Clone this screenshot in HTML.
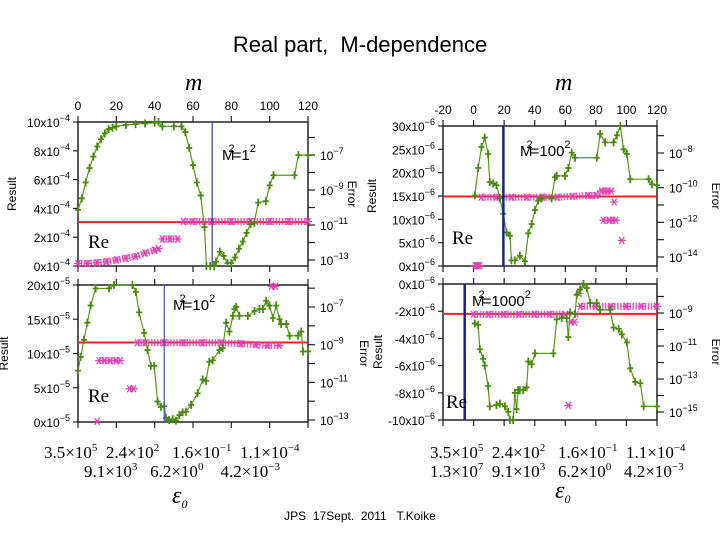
<!DOCTYPE html>
<html><head><meta charset="utf-8"><style>
body{margin:0;background:#fff;}
svg text{font-family:"Liberation Sans",sans-serif;white-space:pre;}
.sf{font-family:"Liberation Serif",serif !important;}
</style></head><body>
<svg id="chart" width="720" height="540" viewBox="0 0 720 540" xmlns="http://www.w3.org/2000/svg">
<rect width="720" height="540" fill="#fff"/>
<text x="360" y="52" font-size="22" text-anchor="middle">Real part,  M-dependence</text>
<text x="360" y="520" font-size="12" text-anchor="middle" xml:space="preserve">JPS  17Sept.  2011   T.Koike</text>
<g id="layer"></g>
</svg>
<script>
// ---- data: m index and Result values (left axis units) ----
const p1GreenM=[0,2,4,6,8,10,12,14,16,18,20,25,30,35,40,42,44,50,54,56,58,60,62,64,66,67,69,71,72,74,76,78,80,82,84,86,88,90,92,94,98,100,102,113,115,120];
const p1GreenV=[3.9,4.7,5.8,6.8,7.6,8.3,8.8,9.2,9.5,9.6,9.7,9.8,9.85,9.9,9.95,10,9.7,9.7,9.7,9.3,8.2,7.0,5.8,4.9,2.7,0,0,0,0.3,1.0,0.7,0.2,0.2,0.6,1.2,1.7,2.3,2.9,3.0,4.4,4.5,5.6,6.3,6.3,7.7,7.7];
const p1MagM=[0,5,10,15,20,25,30,35,40,42,44,48,52,55,60,70,80,90,100,110,120];
const p1MagLog=[-13.2,-13.2,-13.15,-13.1,-13.0,-12.9,-12.8,-12.6,-12.45,-12.35,-11.8,-11.8,-11.8,-10.8,-10.8,-10.8,-10.8,-10.8,-10.8,-10.8,-10.8];
const p1Exact=3.05, p1Mark=70;

const p2GreenM=[0.8,3,5.2,7.3,9.5,10.6,12.8,15,17.2,19.4,21.6,23.8,24.8,27,30.3,33.6,35.8,38,40.2,42.3,44.5,51,53.3,54.4,59.8,62,64.2,66.4,80.6,82.8,86.1,91.6,93.8,96,98.1,100.3,102.5,114.5,116.7,120];
const p2GreenV=[15.1,21,25.5,27.5,24,18,17.7,17.3,14.5,11.2,7.2,6.5,1.2,1.2,2.2,1.0,7,9,12,14,14.5,14.5,19,19.3,19.3,21,24.3,23.2,23.2,28.3,26.5,26.5,28,30,25,24,18.6,18.6,17.5,17.3];
const p2MagM=[1,2,3,4,5,15,25,35,45,55,65,75,80,84,86,88,90,92,85,89,91,93,97];
const p2MagLog=[-14.5,-14.5,-14.5,-14.5,-10.55,-10.55,-10.55,-10.55,-10.55,-10.55,-10.5,-10.45,-10.45,-10.2,-10.2,-10.2,-10.2,-10.83,-11.88,-11.88,-11.88,-11.88,-13.04];
const p2Exact=14.9, p2Mark=19.5;

const p3GreenM=[0,1.4,3.1,4.9,6.6,9.2,16.2,18.8,28.4,30.2,31.9,34.5,36.3,38,39.8,41.5,43.3,45,45.9,47.6,49.4,51.1,52.9,54.6,56.3,59,62.4,65.1,66.8,68.5,70.3,73.8,75.5,77.3,79,80.8,81.6,82.5,84.2,88.6,92.1,94.7,96.5,98.2,99.9,101.7,103.4,105.1,106,108.7,110.4,114.8,116.5,117.4,120];
const p3GreenV=[7.5,9.5,12,14.5,17,19.5,19.5,20,20,19,16,13,10.5,8.2,8.2,3,2.2,2.3,0.6,0.3,0.4,0.2,1,1.4,1.5,2.5,4.2,6.2,6,8.8,9,10.5,10.8,14.5,13.2,15.5,16.5,16.8,15.5,15.5,16.2,16.5,16.5,17.7,17,15.2,17,15,14.3,14.3,12.6,12.6,13.2,10.3,10.3];
const p3MagM=[10,11,14,17,20,22,27,29,31,35,45,55,65,75,85,93,99,105,101,103];
const p3MagLog=[-13.07,-9.85,-9.85,-9.85,-9.85,-9.85,-11.34,-11.34,-8.9,-8.9,-8.9,-8.9,-8.9,-8.9,-8.95,-9.0,-9.05,-9.05,-5.9,-5.9];
const p3Exact=11.6, p3Mark=45;

const p4GreenM=[0.8,3,4.1,6.3,7.3,9.5,10.6,15,17.2,20.5,22.7,23.8,25.9,27,28.1,29.2,30.3,32.5,34.7,35.8,38,40.2,52.2,54.4,57.7,60.9,62,63.1,66.4,67.5,69.7,71.9,74.1,76.3,80.6,82.8,89.4,91.6,94.9,97,100.3,102.5,105.8,109.1,111.3,120];
const p4GreenV=[-2.9,-3.0,-4.8,-5.5,-6.0,-7.5,-9.0,-8.9,-8.8,-9.0,-9.4,-10,-10,-8,-9.2,-7.8,-7.8,-7.8,-7.6,-5.7,-5.9,-5.1,-5.1,-2.6,-2.5,-2.5,-3.9,-2.1,-2.2,-0.8,-0.4,0,-0.3,-1.4,-1.4,-1.9,-1.9,-3.2,-3.3,-3.7,-4.3,-6.2,-7.2,-7.3,-9.0,-9.0];
const p4MagM=[0,10,20,30,40,50,60,64,66,67,69,62,70,80,90,100,110,120];
const p4MagLog=[-9.08,-9.08,-9.08,-9.08,-9.08,-9.08,-9.08,-9.55,-9.55,-9.08,-7.83,-14.6,-8.6,-8.6,-8.6,-8.6,-8.6,-8.6];
const p4Exact=-2.2, p4Mark=-5.8;

// tick labels
const leftTicks1=[0,2,4,6,8,10], leftTicks2=[0,5,10,15,20,25,30], leftTicks3=[0,5,10,15,20], leftTicks4=[-10,-8,-6,-4,-2,0];
const topTicksL=[0,20,40,60,80,100,120], topTicksR=[-20,0,20,40,60,80,100,120];
const errTicks1=[-7,-9,-11,-13], errTicks2=[-8,-10,-12,-14], errTicks3=[-7,-9,-11,-13], errTicks4=[-9,-11,-13,-15];

const NS="http://www.w3.org/2000/svg";
const layer=document.getElementById('layer');
function mk(tag,attrs,parent){const e=document.createElementNS(NS,tag);for(const k in attrs)e.setAttribute(k,attrs[k]);(parent||layer).appendChild(e);return e;}

function panel(cfg){
  const g=mk('g',{});
  
  
  const xs=m=>cfg.xa+(m-cfg.ma)*(cfg.xb-cfg.xa)/(cfg.mb-cfg.ma);
  const ys=v=>cfg.ya+(v-cfg.va)*(cfg.yb-cfg.ya)/(cfg.vb-cfg.va);
  const ye=l=>cfg.ea+(l-cfg.la)*(cfg.eb-cfg.ea)/(cfg.lb-cfg.la);
  const L=cfg.xa0,R=cfg.xb0,T=cfg.top,B=cfg.bot;
  const fr=mk('rect',{x:L,y:T,width:R-L,height:B-T,fill:'none',stroke:'#222','stroke-width':1.5},g);
  
  cfg.xticks.forEach(t=>{const x=xs(t);
    mk('line',{x1:x,y1:B,x2:x,y2:B+6,stroke:'#222','stroke-width':1.2},g);
    mk('line',{x1:x,y1:T,x2:x,y2:T-6,stroke:'#222','stroke-width':1.2},g);
    if(cfg.showTop){const tx=mk('text',{x:x,y:T-12,'font-size':12,'text-anchor':'middle'},g);tx.textContent=t;
      }
  });
  cfg.lticks.forEach(v=>{const y=ys(v);
    mk('line',{x1:L-5,y1:y,x2:L,y2:y,stroke:'#222','stroke-width':1.2},g);
    const tx=mk('text',{x:L-8,y:y+5,'font-size':12,'text-anchor':'end'},g);
    
    tx.textContent=v+'x10';const s=mk('tspan',{dy:-6,'font-size':9},tx);s.textContent='−'+cfg.exp;
  });
  cfg.eticks.forEach(l=>{const y=ye(l);
    mk('line',{x1:R,y1:y,x2:R+7,y2:y,stroke:'#222','stroke-width':1.2},g);
    const y2=ye(l+1);mk('line',{x1:R,y1:y2,x2:R+7,y2:y2,stroke:'#222','stroke-width':1.2},g);
    const tx=mk('text',{x:R+12,y:y+5,'font-size':12},g);
    
    tx.textContent='10';const s=mk('tspan',{dy:-6,'font-size':9},tx);s.textContent='−'+(-l);
  });
  const rl=mk('text',{x:0,y:0,'font-size':12,'text-anchor':'middle',transform:`translate(${cfg.rlx},${(T+B)/2}) rotate(-90)`},g);
  rl.textContent='Result';
  const el=mk('text',{x:0,y:0,'font-size':12,'text-anchor':'middle',transform:`translate(${cfg.elx},${(T+B)/2}) rotate(90)`},g);
  el.textContent='Error';
  const red=mk('line',{x1:L,x2:R,y1:ys(cfg.exact),y2:ys(cfg.exact),stroke:'#e8242a','stroke-width':2},g);
  
  cfg.magM.forEach((m,i)=>{const x=xs(m),y=ye(cfg.magL[i]);
    const st=mk('path',{d:`M${x-4},${y}H${x+4}M${x-2.5},${y-3.5}L${x+2.5},${y+3.5}M${x-2.5},${y+3.5}L${x+2.5},${y-3.5}`,stroke:'#e040b0','stroke-width':1.2},g);
    
    if(i<cfg.magM.length-1 && Math.abs(cfg.magL[i+1]-cfg.magL[i])<0.3 && cfg.magM[i+1]>m){
      const x2=xs(cfg.magM[i+1]),y2=ye(cfg.magL[i+1]);
      const band=mk('path',{d:`M${x},${y}L${x2},${y2}`,stroke:'#e040b0','stroke-width':7,'stroke-dasharray':'1.5 1.5',opacity:0.85},g);
      
    }
  });
  const pts=cfg.gM.map((m,i)=>xs(m)+','+ys(cfg.gV[i])).join(' ');
  const pl=mk('polyline',{points:pts,fill:'none',stroke:'#5a9a1a','stroke-width':1.2},g);
  
  cfg.gM.forEach((m,i)=>{const x=xs(m),y=ys(cfg.gV[i]);
    const p=mk('path',{d:`M${x-3},${y}H${x+3}M${x},${y-4}V${y+4}`,stroke:'#4a8a10','stroke-width':1.8},g);
    
  });
  const bl=mk('line',{x1:xs(cfg.mark),x2:xs(cfg.mark),y1:T,y2:B,stroke:cfg.markColor,'stroke-width':cfg.markW},g);
  
  const ml=mk('text',{x:cfg.mlx,y:cfg.mly,'font-size':15},g);
  
  ml.textContent='M';const a=mk('tspan',{dx:-6,dy:-8,'font-size':11},ml);a.textContent='2';
  const b=mk('tspan',{dx:-2,dy:8},ml);b.textContent='='+cfg.mtext;const c=mk('tspan',{dy:-8,'font-size':11},ml);c.textContent='2';
  const re=mk('text',{x:cfg.rex,y:cfg.rey,'font-size':19,class:'sf'},g);
  re.textContent='Re';
}

panel({name:'panel-m1',xa:78,xb:308,ma:0,mb:120,xa0:78,xb0:308,top:122,bot:266,ya:266,yb:122,va:0,vb:10,ea:155,eb:260,la:-7,lb:-13,
  xticks:topTicksL,showTop:true,lticks:leftTicks1,exp:4,eticks:errTicks1,rlx:16,elx:348,exact:p1Exact,mark:p1Mark,markColor:'#3040a0',markW:1.2,
  gM:p1GreenM,gV:p1GreenV,magM:p1MagM,magL:p1MagLog,mlx:222,mly:160,mtext:'1',rex:88,rey:248});
panel({name:'panel-m100',xa:443,xb:657,ma:-20,mb:120,xa0:443,xb0:657,top:126,bot:266,ya:266,yb:126,va:0,vb:30,ea:153,eb:257,la:-8,lb:-14,
  xticks:topTicksR,showTop:true,lticks:leftTicks2,exp:6,eticks:errTicks2,rlx:376,elx:712,exact:p2Exact,mark:p2Mark,markColor:'#1a2580',markW:2.5,
  gM:p2GreenM,gV:p2GreenV,magM:p2MagM,magL:p2MagLog,mlx:520,mly:156,mtext:'100',rex:452,rey:244});
panel({name:'panel-m10',xa:78,xb:308,ma:0,mb:120,xa0:78,xb0:308,top:285,bot:422,ya:422,yb:285,va:0,vb:20,ea:307,eb:420,la:-7,lb:-13,
  xticks:topTicksL,showTop:false,lticks:leftTicks3,exp:5,eticks:errTicks3,rlx:8,elx:360,exact:p3Exact,mark:p3Mark,markColor:'#4050c0',markW:1.2,
  gM:p3GreenM,gV:p3GreenV,magM:p3MagM,magL:p3MagLog,mlx:173,mly:310,mtext:'10',rex:88,rey:402});
panel({name:'panel-m1000',xa:443,xb:657,ma:-20,mb:120,xa0:443,xb0:657,top:284,bot:420,ya:420,yb:284,va:-10,vb:0,ea:313,eb:412,la:-9,lb:-15,
  xticks:topTicksR,showTop:false,lticks:leftTicks4,exp:6,eticks:errTicks4,rlx:382,elx:712,exact:p4Exact,mark:p4Mark,markColor:'#1a2090',markW:2.5,
  gM:p4GreenM,gV:p4GreenV,magM:p4MagM,magL:p4MagLog,mlx:472,mly:306,mtext:'1000',rex:446,rey:408});

function txt(name,x,y,s,size,extra){const t=mk('text',Object.assign({x:x,y:y,'font-size':size,class:'sf'},extra||{}));
  t.innerHTML=s;return t;}
txt('x-axis-title-top',185,90,'m',24,{'font-style':'italic'});
txt('x-axis-title-top',555,90,'m',24,{'font-style':'italic'});
const sup=(a,b)=>a+'×10<tspan dy="-7" font-size="11">'+b+'</tspan><tspan dy="7"> </tspan>';
txt('bottom-tick-row-1',44,458,sup('3.5','5')+'&#160;'+sup('2.4','2')+'&#160;&#160;'+sup('1.6','−1')+'&#160;'+sup('1.1','−4'),17);
txt('bottom-tick-row-2',84,477,sup('9.1','3')+'&#160;&#160;'+sup('6.2','0')+'&#160;&#160;&#160;'+sup('4.2','−3'),17);
txt('bottom-tick-row-1',430,458,sup('3.5','5')+'&#160;'+sup('2.4','2')+'&#160;&#160;'+sup('1.6','−1')+'&#160;'+sup('1.1','−4'),17);
txt('bottom-tick-row-2',430,477,sup('1.3','7')+'&#160;'+sup('9.1','3')+'&#160;&#160;'+sup('6.2','0')+'&#160;&#160;'+sup('4.2','−3'),17);
txt('x-axis-title-bottom',172,503,'ε<tspan dy="5" font-size="12">0</tspan>',24,{'font-style':'italic'});
txt('x-axis-title-bottom',555,498,'ε<tspan dy="5" font-size="12">0</tspan>',24,{'font-style':'italic'});
</script>
</body></html>
